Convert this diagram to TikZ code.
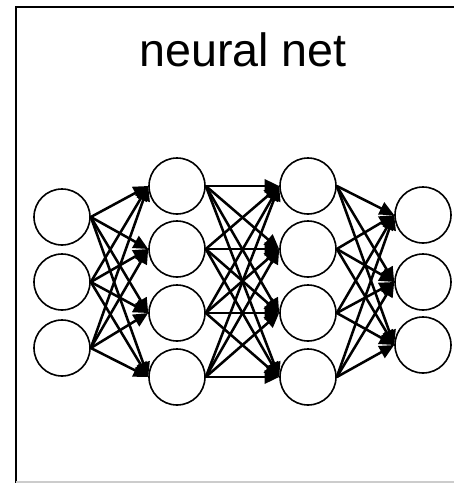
\documentclass[tikz,border=0pt]{standalone}
\usepackage{fontspec}
\setmainfont{Liberation Sans}
\usetikzlibrary{arrows.meta}
\begin{document}
\begin{tikzpicture}[x=0.75pt,y=-0.75pt,
  neuron/.style={circle,draw,line width=1.2pt,minimum size=42pt,inner sep=0pt},
  conn/.style={line width=1.9pt,-{Triangle[length=11pt,width=10pt]}}]
\useasboundingbox (0,0) rectangle (454,483);
\draw[line width=1.6pt] (16,483) -- (16,7.3) -- (454,7.3);
\draw[line width=1pt,black!20] (16,482) -- (454,482);
\node (title) at (243,50) {\fontsize{35}{42}\selectfont neural net};
% layer 1
\node[neuron] (a1) at (62,217) {};
\node[neuron] (a2) at (62,282) {};
\node[neuron] (a3) at (62,348) {};
% layer 2
\node[neuron] (b1) at (177,186) {};
\node[neuron] (b2) at (177,249) {};
\node[neuron] (b3) at (177,313) {};
\node[neuron] (b4) at (177,377) {};
% layer 3
\node[neuron] (c1) at (308,186) {};
\node[neuron] (c2) at (308,249) {};
\node[neuron] (c3) at (308,313) {};
\node[neuron] (c4) at (308,377) {};
% layer 4
\node[neuron] (d1) at (423,215) {};
\node[neuron] (d2) at (423,282) {};
\node[neuron] (d3) at (423,345) {};
\foreach \s in {a1,a2,a3}{\foreach \t in {b1,b2,b3,b4}{\draw[conn] (\s.east) -- (\t.west);}}
\foreach \s in {b1,b2,b3,b4}{\foreach \t in {c1,c2,c3,c4}{\draw[conn] (\s.east) -- (\t.west);}}
\foreach \s in {c1,c2,c3,c4}{\foreach \t in {d1,d2,d3}{\draw[conn] (\s.east) -- (\t.west);}}
\end{tikzpicture}
\end{document}
